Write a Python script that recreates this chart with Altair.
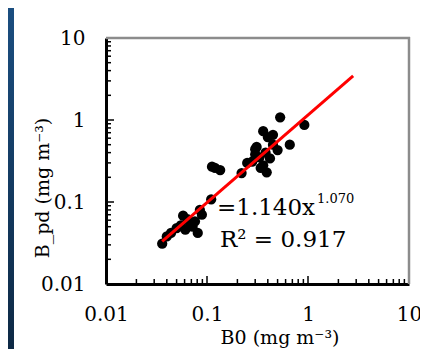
import altair as alt
import pandas as pd

# ---- data ----
b0 = [0.036, 0.040, 0.044, 0.050, 0.055, 0.058, 0.064, 0.068, 0.061, 0.072,
      0.076, 0.081, 0.085, 0.089, 0.110, 0.112, 0.120, 0.135, 0.22, 0.25,
      0.28, 0.30, 0.31, 0.33, 0.36, 0.39, 0.36, 0.40, 0.45, 0.42,
      0.50, 0.45, 0.66, 0.53, 0.92, 0.38, 0.34, 0.30]
bpd = [0.031, 0.038, 0.042, 0.048, 0.052, 0.068, 0.062, 0.055, 0.046, 0.050,
       0.058, 0.042, 0.080, 0.070, 0.108, 0.27, 0.26, 0.245, 0.225, 0.30,
       0.31, 0.44, 0.47, 0.35, 0.28, 0.23, 0.73, 0.62, 0.66, 0.34,
       0.43, 0.50, 0.50, 1.08, 0.87, 0.40, 0.26, 0.38]
fit_x = [0.036, 2.8]
fit_y = [0.033, 3.45]

major_ticks = [0.01, 0.1, 1, 10]
minor_ticks = [0.02, 0.03, 0.04, 0.05, 0.06, 0.07, 0.08, 0.09,
               0.2, 0.3, 0.4, 0.5, 0.6, 0.7, 0.8, 0.9,
               2, 3, 4, 5, 6, 7, 8, 9]
inner_major = [0.1, 1]

eq_main = "=1.140x"
eq_sup = "1.070"
eq_r2 = "R\u00b2 = 0.917"
x_title = "B0 (mg m\u207b\u00b3)"
y_title = "B_pd (mg m\u207b\u00b3)"

W, H = 303, 246
FONT = "DejaVu Serif"

xs = alt.Scale(type="log", domain=[0.01, 10], nice=False)
ys = alt.Scale(type="log", domain=[0.01, 10], nice=False)

x_axis = alt.Axis(values=major_ticks, format="~g", title=None, ticks=False, grid=False,
                  domainColor="black", domainWidth=3, labelFont=FONT, labelFontSize=20,
                  labelColor="black", labelPadding=20, labelFlush=False, labelOverlap=False)
y_axis = alt.Axis(values=major_ticks, format="~g", title=None, ticks=False, grid=False,
                  domainColor="black", domainWidth=3, labelFont=FONT, labelFontSize=20,
                  labelColor="black", labelPadding=21, labelFlush=False, labelOverlap=False)

pts_df = pd.DataFrame({"b0": b0, "bpd": bpd})
fit_df = pd.DataFrame({"b0": fit_x, "bpd": fit_y})
one = pd.DataFrame({"d": [0]})

X = alt.X("b0:Q", scale=xs, axis=x_axis)
Y = alt.Y("bpd:Q", scale=ys, axis=y_axis)

points = alt.Chart(pts_df).mark_circle(size=105, color="black", opacity=1).encode(x=X, y=Y)
fit = alt.Chart(fit_df).mark_line(color="#ff0000", strokeWidth=3).encode(x=X, y=Y)

minor_df = pd.DataFrame({"v": minor_ticks})
inner_df = pd.DataFrame({"v": inner_major})
xt_minor = alt.Chart(minor_df).mark_rule(color="black", strokeWidth=1.5).encode(
    x=alt.X("v:Q", scale=xs, axis=x_axis), y=alt.value(H), y2=alt.value(H - 5))
xt_major = alt.Chart(inner_df).mark_rule(color="black", strokeWidth=1.5).encode(
    x=alt.X("v:Q", scale=xs, axis=x_axis), y=alt.value(H), y2=alt.value(H - 8))
yt_minor = alt.Chart(minor_df).mark_rule(color="black", strokeWidth=1.5).encode(
    y=alt.Y("v:Q", scale=ys, axis=y_axis), x=alt.value(0), x2=alt.value(5))
yt_major = alt.Chart(inner_df).mark_rule(color="black", strokeWidth=1.5).encode(
    y=alt.Y("v:Q", scale=ys, axis=y_axis), x=alt.value(0), x2=alt.value(8))

top_border = alt.Chart(one).mark_rule(color="#8c8c8c", strokeWidth=2.5).encode(
    x=alt.value(0), x2=alt.value(W + 1), y=alt.value(0))
right_border = alt.Chart(one).mark_rule(color="#8c8c8c", strokeWidth=2.5).encode(
    x=alt.value(W), y=alt.value(-1), y2=alt.value(H))

strip = alt.Chart(one).mark_rect(
    color=alt.Gradient(gradient="linear", x1=0, x2=0, y1=0, y2=1,
                       stops=[alt.GradientStop(color="#1b4e80", offset=0),
                              alt.GradientStop(color="#0d2843", offset=1)])
).encode(x=alt.value(-98), x2=alt.value(-92), y=alt.value(-30), y2=alt.value(320))

def txt(s, x, y, size, **kw):
    return alt.Chart(pd.DataFrame({"t": [s]})).mark_text(
        font=FONT, fontSize=size, color="black", **kw
    ).encode(text="t:N", x=alt.value(x), y=alt.value(y))

t_eq = txt(eq_main, 111, 177, 23, align="left", baseline="alphabetic")
t_sup = txt(eq_sup, 211, 165, 13, align="left", baseline="alphabetic")
t_r2 = txt(eq_r2, 114, 209, 23, align="left", baseline="alphabetic")
t_x = txt(x_title, 174, 306, 19, align="center", baseline="alphabetic")
t_y = txt(y_title, -63, 150, 19, align="center", baseline="middle", angle=270)

chart = alt.layer(
    strip, points, fit, xt_minor, xt_major, yt_minor, yt_major,
    top_border, right_border, t_eq, t_sup, t_r2, t_x, t_y
).properties(
    width=W, height=H,
    autosize=alt.AutoSizeParams(type="none"),
    padding={"left": 98, "top": 30, "right": 11, "bottom": 65},
    background="white",
).configure_view(stroke=None)

chart.save("out.html", embed_options={"renderer": "svg", "actions": False})
